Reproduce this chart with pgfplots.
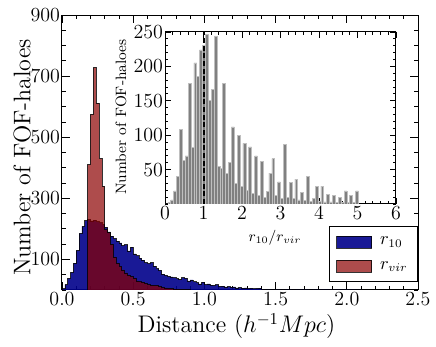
\documentclass[border=0pt]{standalone}
\usepackage{pgfplots}
\pgfplotsset{compat=1.18}
\definecolor{hblue}{RGB}{0,0,139}
\definecolor{hred}{RGB}{139,0,0}
\definecolor{hgray}{RGB}{128,128,128}
\pgfplotsset{
  mplstyle/.style={
    scale only axis,
    tick align=inside,
    axis line style={black, line width=0.6pt},
    tick style={black, line width=0.5pt},
    ticklabel style={font=\large},
    xticklabel style={inner sep=1.5pt},
    yticklabel style={inner sep=1pt},
  },
}
\begin{document}
\begin{tikzpicture}
\useasboundingbox (-37.2pt,-34.2pt) rectangle (224.4pt,174pt);
\begin{axis}[
  mplstyle,
  width=213.6pt, height=165pt,
  xmin=0, xmax=2.5, ymin=0, ymax=900,
  xtick={0,0.5,...,2.5}, minor xtick={0,0.1,...,2.5},
  ytick={100,300,500,700,900}, minor ytick={0,50,...,900},
  major tick length=5pt, minor tick length=2.5pt,
  xticklabel style={/pgf/number format/.cd, fixed, fixed zerofill, precision=1},
  xlabel={Distance $(h^{-1}Mpc)$},
  ylabel={Number of FOF-haloes},
  every axis x label/.style={at={(axis description cs:0.49,-0.131)}, anchor=center, font=\Large},
  every axis y label/.style={at={(axis description cs:-0.112,0.482)}, rotate=90, anchor=center, font=\Large},
  legend style={at={(1,0.029)}, anchor=south east, draw=black, line width=0.5pt,
    fill=white, font=\fontsize{10.5}{12}\selectfont, row sep=4.5pt, column sep=3pt,
    inner xsep=4pt, inner ysep=4pt},
  legend cell align=left,
]
\addplot[const plot, fill=hblue, fill opacity=0.9, draw=black, draw opacity=0.8, line width=0.4pt,
  legend image code/.code={\draw[fill=hblue, fill opacity=0.9, draw=black, line width=0.4pt] (0pt,-3.6pt) rectangle (21pt,3.6pt);}]
  coordinates {
  (0.00,4) (0.02,18) (0.04,38) (0.06,58) (0.08,88) (0.10,130) (0.12,185) (0.14,208)
  (0.16,227) (0.18,230) (0.20,226) (0.22,229) (0.24,224) (0.26,220) (0.28,214) (0.30,205)
  (0.32,190) (0.34,176) (0.36,168) (0.38,160) (0.40,154) (0.42,145) (0.44,148) (0.46,128)
  (0.48,140) (0.50,118) (0.52,112) (0.54,104) (0.56,98) (0.58,90) (0.60,86) (0.62,90)
  (0.64,78) (0.66,70) (0.68,64) (0.70,52) (0.72,48) (0.74,45) (0.76,43) (0.78,40)
  (0.80,37) (0.82,35) (0.84,40) (0.86,38) (0.88,30) (0.90,33) (0.92,27) (0.94,24)
  (0.96,20) (0.98,26) (1.00,18) (1.02,20) (1.04,16) (1.06,15) (1.08,17) (1.10,12)
  (1.12,13) (1.14,10) (1.16,11) (1.18,9) (1.20,10) (1.22,7) (1.24,8) (1.26,6)
  (1.28,7) (1.30,5) (1.32,6) (1.34,4) (1.36,5) (1.38,6) (1.40,2) (1.42,1)
  (1.44,2) (1.46,1) (1.48,1) (1.50,0) (1.54,1) (1.56,0) (1.62,1) (1.64,0)
  (1.74,1) (1.76,0) (1.90,1) (1.92,0) (2.06,1) (2.08,0) (2.10,0)
  } \closedcycle;
\addlegendentry{$r_{10}$}
\addplot[const plot, fill=hred, fill opacity=0.7, draw=black, draw opacity=0.8, line width=0.4pt,
  legend image code/.code={\draw[fill=hred, fill opacity=0.7, draw=black, line width=0.4pt] (0pt,-3.6pt) rectangle (21pt,3.6pt);}]
  coordinates {
  (0.18,410) (0.20,575) (0.22,728) (0.24,612) (0.26,430) (0.28,340) (0.30,198) (0.32,188)
  (0.34,150) (0.36,108) (0.38,88) (0.40,77) (0.42,66) (0.44,56) (0.46,49) (0.48,44)
  (0.50,38) (0.52,30) (0.54,27) (0.56,26) (0.58,22) (0.60,18) (0.62,16) (0.64,15)
  (0.66,14) (0.68,12) (0.70,8) (0.72,7) (0.74,5) (0.76,4) (0.78,3) (0.80,3)
  (0.82,2) (0.84,2) (0.86,1) (0.90,0)
  } \closedcycle;
\addlegendentry{$r_{vir}$}
\end{axis}

\begin{axis}[
  mplstyle,
  at={(61.8pt,154.8pt)}, anchor=north west,
  width=138.6pt, height=103.2pt,
  axis background/.style={fill=white},
  xmin=0, xmax=6, ymin=0, ymax=250,
  xtick={0,1,...,6}, minor xtick={0,0.2,...,6},
  ytick={50,100,...,250}, minor ytick={0,10,...,250},
  major tick length=3.5pt, minor tick length=1.8pt,
  xlabel={$r_{10}/r_{vir}$},
  ylabel={Number of FOF-haloes},
  every axis x label/.style={at={(axis description cs:0.476,-0.198)}, anchor=center, font=\small},
  every axis y label/.style={at={(axis description cs:-0.19,0.506)}, rotate=90, anchor=center, font=\small},
]
\addplot[ybar interval, fill=hgray, draw=gray!50, line width=0.4pt]
  coordinates {
  (0.000,0) (0.075,2) (0.150,6) (0.225,19) (0.300,40) (0.375,108) (0.450,63) (0.525,70)
  (0.600,175) (0.675,82) (0.750,205) (0.825,185) (0.900,224) (0.975,231) (1.050,246) (1.125,150)
  (1.200,166) (1.275,243) (1.350,55) (1.425,52) (1.500,175) (1.575,45) (1.650,60) (1.725,112)
  (1.800,30) (1.875,100) (1.950,25) (2.025,88) (2.100,20) (2.175,83) (2.250,15) (2.325,70)
  (2.400,12) (2.475,62) (2.550,10) (2.625,18) (2.700,45) (2.775,66) (2.850,12) (2.925,32)
  (3.000,8) (3.075,86) (3.150,10) (3.225,31) (3.300,8) (3.375,36) (3.450,6) (3.525,17)
  (3.600,5) (3.675,40) (3.750,4) (3.825,8) (3.900,25) (3.975,4) (4.050,26) (4.125,3)
  (4.200,14) (4.275,3) (4.350,13) (4.425,2) (4.500,10) (4.575,2) (4.650,19) (4.725,2)
  (4.800,13) (4.875,2) (4.950,19) (5.025,19)
  };
\addplot[black, line width=1.2pt, dash pattern=on 3pt off 1.6pt] coordinates {(1,0) (1,250)};
\end{axis}
\end{tikzpicture}
\end{document}
